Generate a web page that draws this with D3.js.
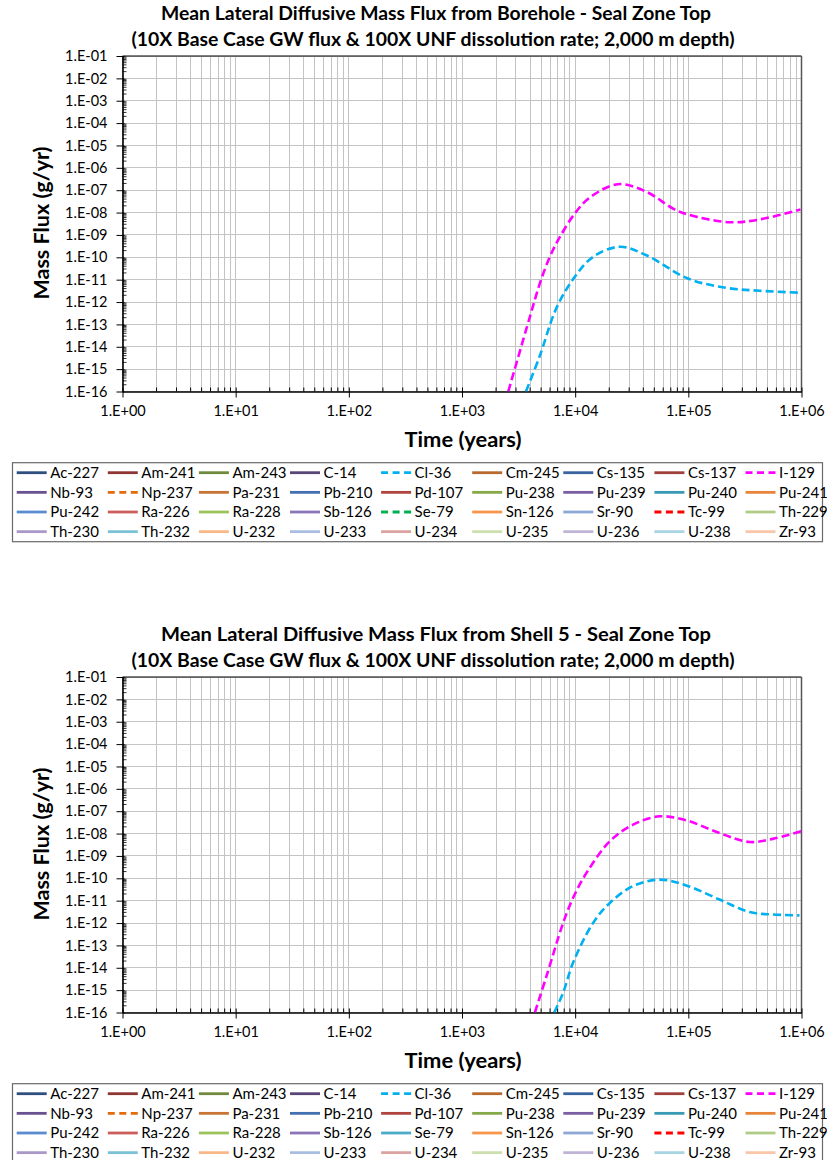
<!DOCTYPE html>
<html><head><meta charset="utf-8">
<script src="https://cdn.jsdelivr.net/npm/d3@7/dist/d3.min.js"></script>
<style>
body{margin:0;background:#fff}
svg{display:block}
text{font-family:Lato,"Open Sans",sans-serif;fill:#000}
</style>
</head><body><svg id="c" width="827" height="1160"></svg>
<script>
// ---------------- DATA ----------------
const titleTop = ["Mean Lateral Diffusive Mass Flux from Borehole - Seal Zone Top",
                  "(10X Base Case GW flux & 100X UNF dissolution rate; 2,000 m depth)"];
const titleBottom = ["Mean Lateral Diffusive Mass Flux from Shell 5 - Seal Zone Top",
                     "(10X Base Case GW flux & 100X UNF dissolution rate; 2,000 m depth)"];
const xLabel = "Time (years)";
const yLabel = "Mass Flux (g/yr)";
const xTickValues = [1,10,100,1000,1e4,1e5,1e6];
const xTickLabels = ["1.E+00","1.E+01","1.E+02","1.E+03","1.E+04","1.E+05","1.E+06"];
const yTickValues = [1e-1,1e-2,1e-3,1e-4,1e-5,1e-6,1e-7,1e-8,1e-9,1e-10,1e-11,1e-12,1e-13,1e-14,1e-15,1e-16];
const yTickLabels = ["1.E-01","1.E-02","1.E-03","1.E-04","1.E-05","1.E-06","1.E-07","1.E-08",
                     "1.E-09","1.E-10","1.E-11","1.E-12","1.E-13","1.E-14","1.E-15","1.E-16"];

// Borehole (top chart)
const boreholeTimeI129 = [2565,3981,4875,5970,7328,9931,13460,23930,42560,73280,99310,231700,425600,979500];
const boreholeFluxI129 = [1e-16,2.2e-13,6.8e-12,1.05e-10,8.1e-10,9.1e-9,4.7e-8,1.86e-7,8.5e-8,1.5e-8,8.1e-9,3.7e-9,4.9e-9,1.38e-8];
const boreholeTimeCl36 = [3673,4875,6839,9931,14420,24770,42560,99310,216300,426600,977200];
const boreholeFluxCl36 = [1e-16,4.0e-15,5.5e-13,1.35e-11,1.05e-10,2.95e-10,1.23e-10,1.12e-11,4.3e-12,3.2e-12,2.6e-12];

// Shell 5 (bottom chart)
const shellTimeI129 = [4406,5585,7834,9594,12590,20230,32510,55850,95940,188800,347500,558500,993100];
const shellFluxI129 = [1e-16,4.3e-15,1.02e-12,1.35e-11,1.74e-10,4.5e-9,2.5e-8,5.9e-8,3.9e-8,1.05e-8,4.2e-9,5.8e-9,1.26e-8];
const shellTimeCl36 = [6531,7834,9594,14420,20230,32510,55850,95940,188800,347500,558500,959500];
const shellFluxCl36 = [1e-16,7.8e-16,1.7e-14,1.02e-12,7.9e-12,4.5e-11,8.7e-11,4.8e-11,1.12e-11,3.1e-12,2.4e-12,2.2e-12];

// Legend
const nuclides = ["Ac-227","Am-241","Am-243","C-14","Cl-36","Cm-245","Cs-135","Cs-137","I-129",
  "Nb-93","Np-237","Pa-231","Pb-210","Pd-107","Pu-238","Pu-239","Pu-240","Pu-241",
  "Pu-242","Ra-226","Ra-228","Sb-126","Se-79","Sn-126","Sr-90","Tc-99","Th-229",
  "Th-230","Th-232","U-232","U-233","U-234","U-235","U-236","U-238","Zr-93"];
const nuclideColorsTop = ["#2E4F7F","#8E3634","#6F8A3C","#5A4578","#00B0F0","#B86A2E","#3A64A0","#A0403D","#FF00FF",
  "#6A5290","#E36C0A","#C77434","#4270B0","#B0443F","#86A94A","#7A5FA3","#3A9AB5","#E6843A",
  "#5B8BD0","#CB5E5B","#9CC25C","#8C74B8","#00B050","#F7964A","#8EA8D6","#FF0000","#AFCB86",
  "#A998C8","#7CC2D6","#F9B88A","#A9BDE0","#DAA3A1","#CCDFAE","#C0B3D5","#A9D5E2","#FAC6A9"];
const nuclideColorsBottom = ["#2E4F7F","#8E3634","#6F8A3C","#5A4578","#00B0F0","#B86A2E","#3A64A0","#A0403D","#FF00FF",
  "#6A5290","#E36C0A","#C77434","#4270B0","#B0443F","#86A94A","#7A5FA3","#3A9AB5","#E6843A",
  "#5B8BD0","#CB5E5B","#9CC25C","#8C74B8","#4BACC6","#F7964A","#8EA8D6","#FF0000","#AFCB86",
  "#A998C8","#7CC2D6","#F9B88A","#A9BDE0","#DAA3A1","#CCDFAE","#C0B3D5","#A9D5E2","#FAC6A9"];
const dashedTop = ["Cl-36","I-129","Np-237","Se-79","Tc-99"];
const dashedBottom = ["Cl-36","I-129","Np-237","Tc-99"];

// ---------------- DRAW ----------------
const svg = d3.select("#c");
const L = 122.5, R = 801.5;

function drawChart(off, titles, seriesList, colors, dashed, id) {
  const top = 56 + off, bot = 391.5 + off;
  const x = d3.scaleLog().domain([1,1e6]).range([L,R]);
  const y = d3.scaleLog().domain([1e-16,1e-1]).range([bot,top]);
  const g = svg.append("g");

  // titles
  g.append("text").attr("x",436).attr("y",20+off).attr("text-anchor","middle")
    .style("font-size","18px").style("font-weight","bold").attr("textLength",550).attr("lengthAdjust","spacingAndGlyphs").text(titles[0]);
  g.append("text").attr("x",433).attr("y",46+off).attr("text-anchor","middle")
    .style("font-size","18px").style("font-weight","bold").attr("textLength",603).attr("lengthAdjust","spacingAndGlyphs").text(titles[1]);

  // grid
  const minorX = [];
  for (let d=1; d<1e6; d*=10) for (let k=1;k<10;k++) minorX.push(d*k);
  minorX.push(1e6);
  g.append("g").selectAll("line").data(minorX).join("line")
    .attr("x1",d=>x(d)).attr("x2",d=>x(d)).attr("y1",top).attr("y2",bot)
    .attr("stroke","#c4c4c4").attr("stroke-width",1).attr("shape-rendering","crispEdges");
  g.append("g").selectAll("line").data(yTickValues).join("line")
    .attr("x1",L).attr("x2",R).attr("y1",d=>y(d)).attr("y2",d=>y(d))
    .attr("stroke","#c4c4c4").attr("stroke-width",1).attr("shape-rendering","crispEdges");

  // frame top/right
  g.append("line").attr("x1",L).attr("x2",R).attr("y1",top).attr("y2",top).attr("stroke","#000").attr("stroke-width",1.2);
  g.append("line").attr("x1",R).attr("x2",R).attr("y1",top).attr("y2",bot).attr("stroke","#555").attr("stroke-width",1.5);

  // minor ticks
  const minorY = [];
  for (let d=1e-16; d<1e-1*0.99; d*=10) for (let k=2;k<10;k++) minorY.push(d*k);
  g.append("g").selectAll("line").data(minorY).join("line")
    .attr("x1",L).attr("x2",L+4).attr("y1",d=>y(d)).attr("y2",d=>y(d)).attr("stroke","#000").attr("stroke-width",0.8);
  g.append("g").selectAll("line").data(minorX.filter(v=>xTickValues.indexOf(v)<0)).join("line")
    .attr("x1",d=>x(d)).attr("x2",d=>x(d)).attr("y1",bot).attr("y2",bot-4).attr("stroke","#000").attr("stroke-width",1);

  // axes
  const xa = g.append("g").attr("transform",`translate(0,${bot})`)
    .call(d3.axisBottom(x).tickValues(xTickValues).tickFormat((d,i)=>xTickLabels[i]).tickSizeInner(6).tickSizeOuter(0).tickPadding(8));
  xa.select(".domain").attr("stroke","#000").attr("stroke-width",1.6);
  xa.selectAll(".tick line").attr("stroke","#000").attr("y1",-4).attr("stroke-width",1);
  xa.selectAll(".tick text").style("font-size","14.5px").style("font-family","Lato").attr("dy","0.72em");

  const ya = g.append("g").attr("transform",`translate(${L},0)`)
    .call(d3.axisLeft(y).tickValues(yTickValues).tickFormat((d,i)=>yTickLabels[i]).tickSizeInner(6).tickSizeOuter(0).tickPadding(9));
  ya.select(".domain").attr("stroke","#000").attr("stroke-width",1.6);
  ya.selectAll(".tick line").attr("stroke","#000").attr("x1",2).attr("stroke-width",1);
  ya.selectAll(".tick text").style("font-size","14.5px").style("font-family","Lato");

  // axis titles
  g.append("text").attr("x",463).attr("y",447+off).attr("text-anchor","middle")
    .style("font-size","20px").style("font-weight","bold").attr("textLength",117).attr("lengthAdjust","spacingAndGlyphs").text(xLabel);
  g.append("text").attr("transform",`translate(49,${223+off}) rotate(-90)`).attr("text-anchor","middle")
    .style("font-size","20px").style("font-weight","bold").attr("textLength",153).attr("lengthAdjust","spacingAndGlyphs").text(yLabel);

  // clip
  svg.append("clipPath").attr("id","clip"+id).append("rect").attr("x",L).attr("y",top).attr("width",R-L).attr("height",bot-top);
  const line = d3.line().x(d=>x(d[0])).y(d=>y(d[1])).curve(d3.curveCatmullRom.alpha(0.5));
  const sg = g.append("g").attr("clip-path",`url(#clip${id})`);
  seriesList.forEach(s=>{
    const pts = s.t.map((t,i)=>[t,s.f[i]]);
    sg.append("path").attr("d",line(pts)).attr("fill","none").attr("stroke",s.color)
      .attr("stroke-width",2.6).attr("stroke-dasharray","8,4");
  });

  // legend
  const lt = 462.7 + off;
  g.append("rect").attr("x",12.5).attr("y",lt).attr("width",810).attr("height",79)
    .attr("fill","#fff").attr("stroke","#6a6a6a").attr("stroke-width",1.2);
  nuclides.forEach((n,i)=>{
    const col = i%9, row = Math.floor(i/9);
    const lx = 16.7 + col*91.1, ly = 472.7 + off + row*19.65;
    g.append("line").attr("x1",lx).attr("x2",lx+30).attr("y1",ly).attr("y2",ly)
      .attr("stroke",colors[i]).attr("stroke-width",2.8)
      .attr("stroke-dasharray", dashed.indexOf(n)>=0 ? "7,4.5" : null);
    g.append("text").attr("x",lx+33.5).attr("y",ly+5.3).style("font-size","15px").text(n);
  });
}

drawChart(0, titleTop, [
  {t:boreholeTimeCl36, f:boreholeFluxCl36, color:"#00B0F0"},
  {t:boreholeTimeI129, f:boreholeFluxI129, color:"#FF00FF"}
], nuclideColorsTop, dashedTop, 1);
drawChart(621, titleBottom, [
  {t:shellTimeCl36, f:shellFluxCl36, color:"#00B0F0"},
  {t:shellTimeI129, f:shellFluxI129, color:"#FF00FF"}
], nuclideColorsBottom, dashedBottom, 2);
</script>
</body></html>
